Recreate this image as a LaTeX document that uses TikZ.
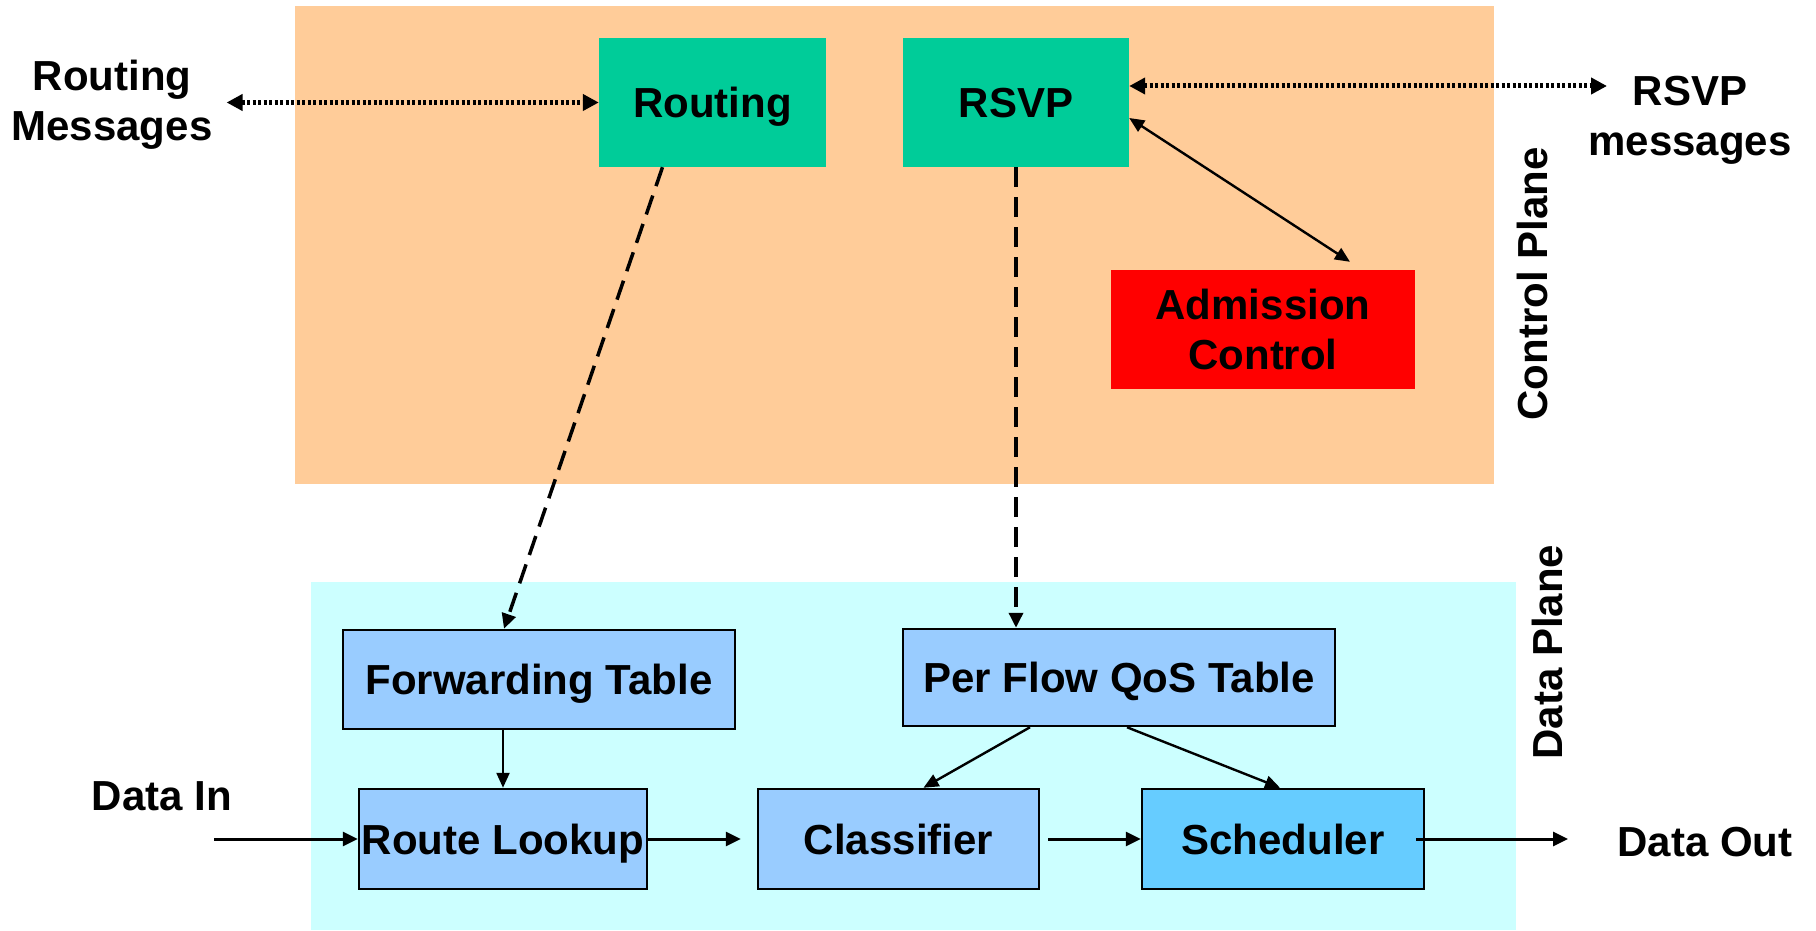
\documentclass[tikz,border=0pt]{standalone}
\usepackage{fontspec}
\setmainfont{Liberation Sans}
\usetikzlibrary{arrows.meta}
\definecolor{ctrlbg}{HTML}{FFCC99}
\definecolor{databg}{HTML}{CCFFFF}
\definecolor{ctrlbox}{HTML}{00CC99}
\definecolor{admbox}{HTML}{FF0000}
\definecolor{databox}{HTML}{99CCFF}
\definecolor{schedbox}{HTML}{66CCFF}
\begin{document}
\begin{tikzpicture}[x=1pt,y=-1pt,
  lbl/.style={font=\fontsize{42}{50}\selectfont\bfseries, inner sep=0pt, align=center},
  capc/.style={text height=30pt, text depth=0pt},
  ctlbox/.style={lbl, capc, fill=ctrlbox},
  dbox/.style={lbl, capc, fill=databox, draw=black, line width=2.5pt},
  arr/.style={-{Triangle[length=15pt,width=14pt]}, line width=3pt},
  thinarr/.style={-{Triangle[length=15pt,width=13pt]}, line width=2.4pt},
  dotarr/.style={{Triangle[length=16pt,width=16pt]}-{Triangle[length=16pt,width=16pt]},
                 line width=5pt, dash pattern=on 3pt off 2.5pt},
  dasharr/.style={-{Triangle[length=15pt,width=14pt]}, line width=3.5pt, dash pattern=on 20pt off 10pt},
  biarr/.style={{Triangle[length=15pt,width=13pt]}-{Triangle[length=15pt,width=13pt]}, line width=2.4pt}
]
\useasboundingbox (0,0) rectangle (1816,931);

% plane backgrounds
\fill[ctrlbg] (295,6) rectangle (1494,484);
\fill[databg] (311,582) rectangle (1516,930);

% control plane blocks
\node[ctlbox, minimum width=227pt, minimum height=129pt] (routing) at (712.5,102.5) {Routing};
\node[ctlbox, minimum width=226pt, minimum height=129pt] (rsvp) at (1016,102.5) {RSVP};
\node[lbl, fill=admbox, minimum width=304pt, minimum height=119pt] (adm) at (1263,329.5) {Admission\\Control};

% data plane blocks
\node[dbox, minimum width=392pt, minimum height=99pt] (ft) at (539,679.5) {Forwarding Table};
\node[dbox, minimum width=432pt, minimum height=97pt] (qos) at (1119,677.5) {Per Flow QoS Table};
\node[dbox, minimum width=288pt, minimum height=100pt] (rl) at (503,839) {Route Lookup};
\node[dbox, minimum width=281pt, minimum height=100pt] (cl) at (898.5,839) {Classifier};
\node[dbox, fill=schedbox, minimum width=282pt, minimum height=100pt] (sch) at (1283,839) {Scheduler};

% outside labels
\node[lbl] (rmsg) at (112,105) {Routing\\Messages};
\node[lbl] (rsvpmsg) at (1690,120) {RSVP\\messages};
\node[lbl] (din) at (162,796) {Data In};
\node[lbl] (dout) at (1705,842) {Data Out};
\node[lbl, rotate=90] (cplane) at (1532,284) {Control Plane};
\node[lbl, rotate=90] (dplane) at (1547,652) {Data Plane};

% free ends of the external links
\coordinate (rsvpout) at (1607,86);
\coordinate (dinstart) at (214,839);
\coordinate (doutend) at (1568,839);

% control plane links
\draw[dotarr] (rmsg.east |- routing.west) ++(14pt,0) -- (routing.west);
\draw[dotarr] ([yshift=16.5pt]rsvp.east) -- (rsvpout);
\draw[biarr] ([yshift=-15.5pt]rsvp.east) -- ([xshift=87pt,yshift=8pt]adm.north);

% control to data plane
\draw[dasharr] ([xshift=-50pt]routing.south) -- ([xshift=-35pt]ft.north);
\draw[dasharr] (rsvp.south) -- (rsvp.south |- qos.north);

% data path
\draw[thinarr] (rl.north |- ft.south) -- (rl.north);
\draw[arr] (dinstart) -- (rl.west);
\draw[arr, shorten >=16pt] (rl.east) -- (cl.west);
\draw[arr, shorten <=8pt] (cl.east) -- (sch.west);
\draw[arr] ([xshift=-9pt]sch.east) -- (doutend);
\draw[thinarr] ([xshift=-89pt]qos.south) -- ([xshift=25pt]cl.north);
\draw[thinarr] ([xshift=8pt]qos.south) -- ([xshift=-3pt]sch.north);
\end{tikzpicture}
\end{document}
